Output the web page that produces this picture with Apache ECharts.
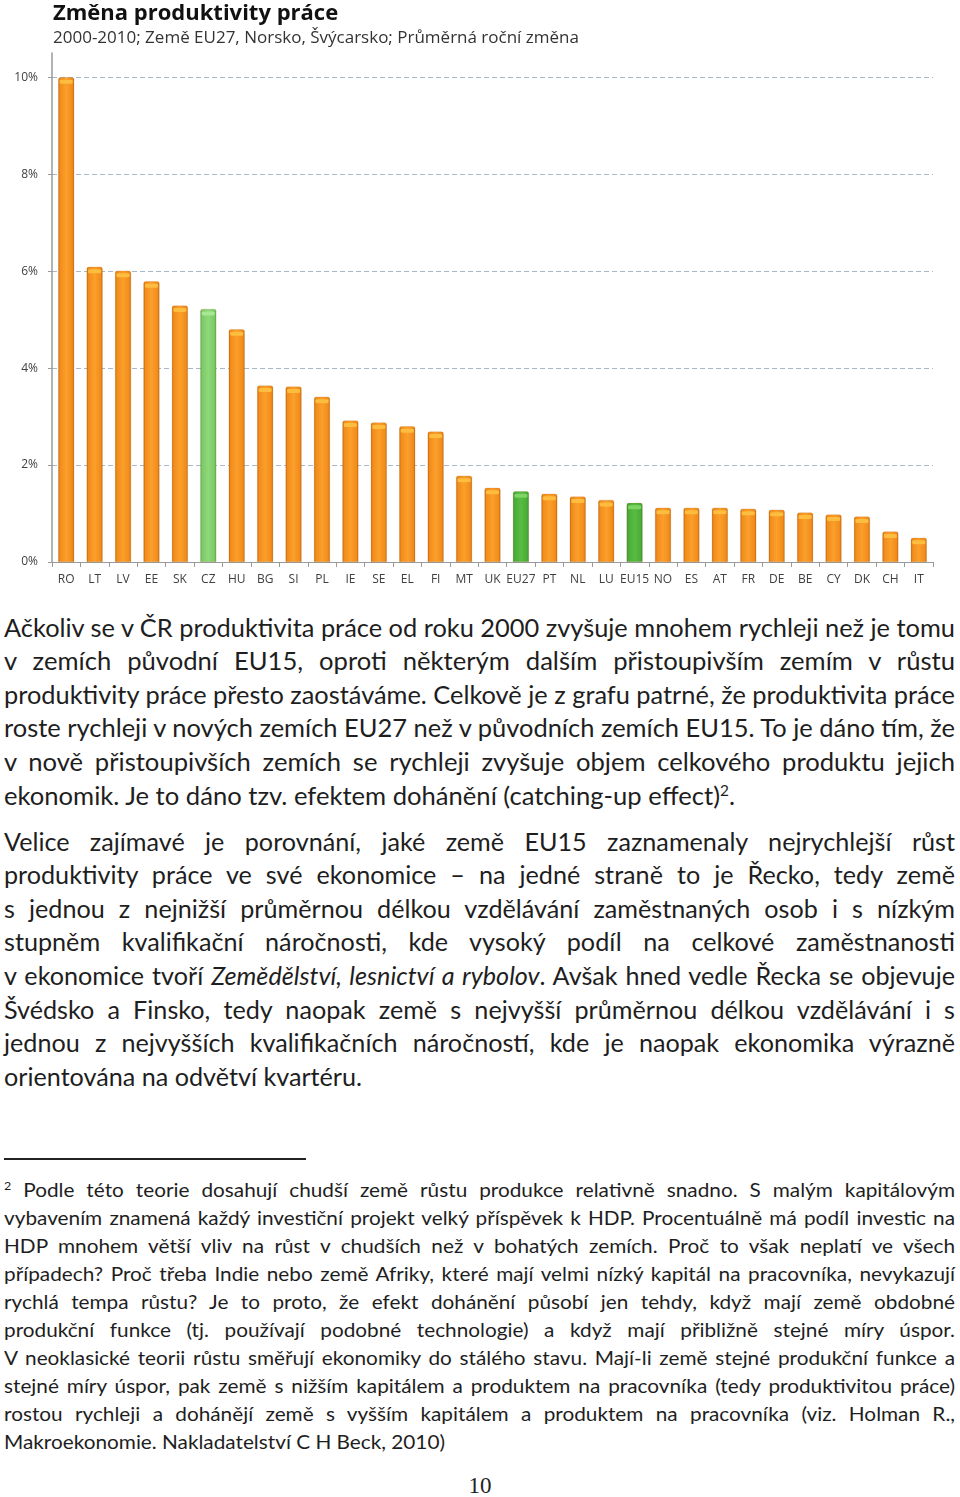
<!DOCTYPE html>
<html>
<head>
<meta charset="utf-8">
<script src="https://cdn.jsdelivr.net/npm/echarts@6/dist/echarts.min.js"></script>
<style>
  html, body { margin: 0; padding: 0; background: #fff; }
  body { width: 960px; height: 1497px; position: relative; overflow: hidden; }
  #chart { position: absolute; left: 0; top: 0; width: 960px; height: 600px; }
  .ln { position: absolute; left: 4px; white-space: nowrap; color: #1e1e1e; font-family: Lato, "Open Sans", sans-serif; }
  .ln span.t { display: inline-block; white-space: pre; transform-origin: 0 50%; }
  .body { font-size: 25px; line-height: 34px; height: 34px; }
  .fn { font-size: 20px; line-height: 28px; height: 28px; }
  .sup { font-size: 0.6em; position: relative; top: -0.55em; }
  #rule { position: absolute; left: 4px; top: 1158px; width: 302px; height: 1.5px; background: #222; }
  #pg { position: absolute; left: 0; width: 960px; top: 1472px; text-align: center; font-family: "Liberation Serif", serif; font-size: 23px; line-height: 28px; color: #222; }
</style>
</head>
<body>
<div id="chart"></div>
<div id="text"></div>
<div id="rule"></div>
<div id="pg">10</div>
<script>
// ---- chart data ----
const titleText = 'Změna produktivity práce';
const subtitleText = '2000-2010; Země EU27, Norsko, Švýcarsko; Průměrná roční změna';
const categories = ['RO','LT','LV','EE','SK','CZ','HU','BG','SI','PL','IE','SE','EL','FI','MT','UK','EU27','PT','NL','LU','EU15','NO','ES','AT','FR','DE','BE','CY','DK','CH','IT'];
const values = [10.0,6.09,6.01,5.79,5.29,5.22,4.80,3.64,3.62,3.41,2.92,2.88,2.80,2.69,1.78,1.53,1.46,1.41,1.35,1.28,1.22,1.12,1.12,1.12,1.10,1.08,1.02,0.98,0.94,0.63,0.50];
const czHighlight = ['CZ'];
const aggregates = ['EU27','EU15'];
const yTicks = [0, 2, 4, 6, 8, 10];

// ---- text data ----
const para1 = [
  'Ačkoliv se v ČR produktivita práce od roku 2000 zvyšuje mnohem rychleji než je tomu',
  'v zemích původní EU15, oproti některým dalším přistoupivším zemím v růstu',
  'produktivity práce přesto zaostáváme. Celkově je z grafu patrné, že produktivita práce',
  'roste rychleji v nových zemích EU27 než v původních zemích EU15. To je dáno tím, že',
  'v nově přistoupivších zemích se rychleji zvyšuje objem celkového produktu jejich',
  'ekonomik. Je to dáno tzv. efektem dohánění (catching-up effect)<span class="sup">2</span>.'
];
const para2 = [
  'Velice zajímavé je porovnání, jaké země EU15 zaznamenaly nejrychlejší růst',
  'produktivity práce ve své ekonomice – na jedné straně to je Řecko, tedy země',
  's jednou z nejnižší průměrnou délkou vzdělávání zaměstnaných osob i s nízkým',
  'stupněm kvalifikační náročnosti, kde vysoký podíl na celkové zaměstnanosti',
  'v ekonomice tvoří <i>Zemědělství, lesnictví a rybolov</i>. Avšak hned vedle Řecka se objevuje',
  'Švédsko a Finsko, tedy naopak země s nejvyšší průměrnou délkou vzdělávání i s',
  'jednou z nejvyšších kvalifikačních náročností, kde je naopak ekonomika výrazně',
  'orientována na odvětví kvartéru.'
];
const footnote = [
  '<span class="sup">2</span> Podle této teorie dosahují chudší země růstu produkce relativně snadno. S malým kapitálovým',
  'vybavením znamená každý investiční projekt velký příspěvek k HDP. Procentuálně má podíl investic na',
  'HDP mnohem větší vliv na růst v chudších než v bohatých zemích. Proč to však neplatí ve všech',
  'případech? Proč třeba Indie nebo země Afriky, které mají velmi nízký kapitál na pracovníka, nevykazují',
  'rychlá tempa růstu? Je to proto, že efekt dohánění působí jen tehdy, když mají země obdobné',
  'produkční funkce (tj. používají podobné technologie) a když mají přibližně stejné míry úspor.',
  'V neoklasické teorii růstu směřují ekonomiky do stálého stavu. Mají-li země stejné produkční funkce a',
  'stejné míry úspor, pak země s nižším kapitálem a produktem na pracovníka (tedy produktivitou práce)',
  'rostou rychleji a dohánějí země s vyšším kapitálem a produktem na pracovníka (viz. Holman R.,',
  'Makroekonomie. Nakladatelství C H Beck, 2010)'
];

// ---- chart ----
function grad(c0, c1, c2) {
  return new echarts.graphic.LinearGradient(0, 0, 1, 0, [
    { offset: 0, color: c0 }, { offset: 0.12, color: c1 }, { offset: 0.5, color: c2 },
    { offset: 0.88, color: c1 }, { offset: 1, color: c0 }
  ]);
}
const orangeFill = grad('#c8680c', '#f28c1a', '#fb9f2c');
const lightGreenFill = grad('#5aa84a', '#7acb66', '#8fd87a');
const darkGreenFill = grad('#3b8e2a', '#4aad37', '#58bb42');

function barColor(name) {
  if (czHighlight.includes(name)) return lightGreenFill;
  if (aggregates.includes(name)) return darkGreenFill;
  return orangeFill;
}
function capColor(name) {
  if (czHighlight.includes(name)) return '#a8e792';
  if (aggregates.includes(name)) return '#7ed464';
  return '#fdbd3e';
}

const chart = echarts.init(document.getElementById('chart'), null, { renderer: 'canvas' });
const gridColor = '#a9b9c8';
chart.setOption({
  animation: false,
  title: [
    { text: titleText, left: 53, top: 3, padding: 0,
      textStyle: { fontFamily: '"Open Sans", sans-serif', fontSize: 22, fontWeight: 'bold', color: '#111' } },
    { text: subtitleText, left: 53, top: 30, padding: 0,
      textStyle: { fontFamily: '"Open Sans", sans-serif', fontSize: 17, fontWeight: 'normal', color: '#333' } }
  ],
  grid: { left: 52, right: 27, top: 53, bottom: 38, containLabel: false },
  xAxis: {
    type: 'category',
    data: categories,
    axisLine: { lineStyle: { color: '#9a9a9a', width: 1 } },
    axisTick: { show: true, length: 5, lineStyle: { color: '#9a9a9a' } },
    axisLabel: { color: '#404040', fontSize: 12, fontFamily: '"Open Sans", sans-serif', margin: 12, interval: 0 },
    splitLine: { show: false }
  },
  yAxis: {
    type: 'value',
    min: yTicks[0],
    max: 10.5,
    interval: yTicks[1] - yTicks[0],
    axisLine: { show: true, lineStyle: { color: '#9a9a9a', width: 1.5 } },
    axisTick: { show: true, length: 4, lineStyle: { color: '#9a9a9a' } },
    axisLabel: { color: '#404040', fontSize: 12, fontFamily: '"Open Sans", sans-serif', margin: 14,
      showMaxLabel: false, formatter: v => yTicks.includes(v) ? v + '%' : '' },
    splitLine: { show: true, lineStyle: { type: [5, 3], width: 1,
      color: yTicks.map(() => gridColor).concat(['rgba(0,0,0,0)']) } }
  },
  series: [
    {
      type: 'bar',
      barWidth: 16,
      data: values.map((v, i) => ({ value: v, itemStyle: { color: barColor(categories[i]) } })),
      itemStyle: { borderColor: 'rgba(150,80,0,0.35)', borderWidth: 0.5, borderRadius: [2, 2, 0, 0] },
      z: 2
    },
    {
      type: 'pictorialBar',
      symbol: 'roundRect',
      symbolSize: [13, 4],
      symbolPosition: 'end',
      symbolOffset: [0, 2.5],
      data: values.map((v, i) => ({ value: v, itemStyle: { color: capColor(categories[i]) } })),
      z: 3,
      silent: true
    }
  ]
});

// ---- text layout ----
const W = 951;
const textRoot = document.getElementById('text');
function makeLines(lines, cls, startY, step, lh) {
  return lines.map((html, i) => {
    const d = document.createElement('div');
    d.className = 'ln ' + cls;
    d.style.top = (startY + i * step - lh / 2) + 'px';
    const s = document.createElement('span');
    s.className = 't';
    s.innerHTML = html;
    d.appendChild(s);
    textRoot.appendChild(d);
    return s;
  });
}
function fit(spans, lastTarget) {
  const widths = spans.map(s => s.getBoundingClientRect().width);
  const sc = lastTarget / widths[widths.length - 1];
  spans.forEach((sp, i) => {
    const nat = widths[i];
    if (i === spans.length - 1) { sp.style.transform = 'scaleX(' + sc + ')'; return; }
    const n = (sp.textContent.match(/ /g) || []).length;
    if (nat * sc <= W && n > 0) {
      sp.style.wordSpacing = ((W / sc - nat) / n) + 'px';
      sp.style.transform = 'scaleX(' + sc + ')';
    } else {
      sp.style.transform = 'scaleX(' + (W / nat) + ')';
    }
  });
}
function layout() {
  const p1 = makeLines(para1, 'body', 626.5, 33.6, 34);
  const p2 = makeLines(para2, 'body', 840.5, 33.6, 34);
  const fn = makeLines(footnote, 'fn', 1188.5, 28, 28);
  fit(p1, 731);
  fit(p2, 358);
  fit(fn, 441);
}
if (document.fonts && document.fonts.ready) {
  document.fonts.load('25px Lato').then(() => document.fonts.ready).then(layout, layout);
} else { layout(); }
</script>
</body>
</html>
